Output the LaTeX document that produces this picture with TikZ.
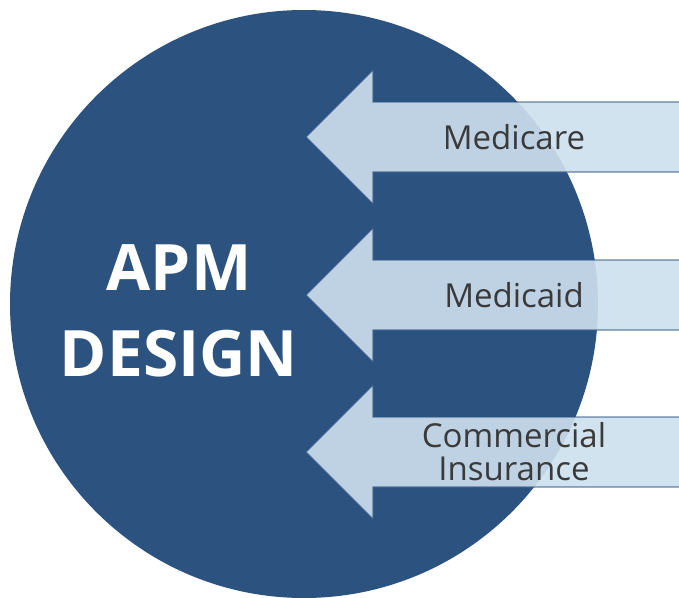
\documentclass[tikz,border=0pt]{standalone}
\usepackage{fontspec}
\setmainfont{Open Sans}
\definecolor{apmblue}{RGB}{44,83,128}
\definecolor{payfill}{RGB}{206,224,239}
\definecolor{labelgray}{RGB}{58,58,58}

\begin{document}
\begin{tikzpicture}[x=1pt,y=-1pt]
    \clip (0,0) rectangle (679,597);
    \fill [white] (0,0) rectangle (679,597);

    \node [circle, fill=apmblue, minimum size=588pt, inner sep=0pt] (design) at (304,304) {};
    \node [white, font=\bfseries\fontsize{64}{86}\selectfont, align=center] (apm) at (179,311) {APM\\DESIGN};

    \foreach \y/\name/\txt in {137/medicare/Medicare, 295/medicaid/Medicaid, 452/commercial/{Commercial\\Insurance}} {
        \filldraw [payfill, fill opacity=0.9, draw=apmblue, draw opacity=0.7, line width=1.2pt]
            (306,\y) -- (373,\y-67) -- (373,\y-35) -- (690,\y-35) -- (690,\y+35) -- (373,\y+35) -- (373,\y+67) -- cycle;
        \node [labelgray, font=\fontsize{33}{33}\selectfont, align=center] (\name) at (514,\y) {\txt};
    }

\end{tikzpicture}
\end{document}
